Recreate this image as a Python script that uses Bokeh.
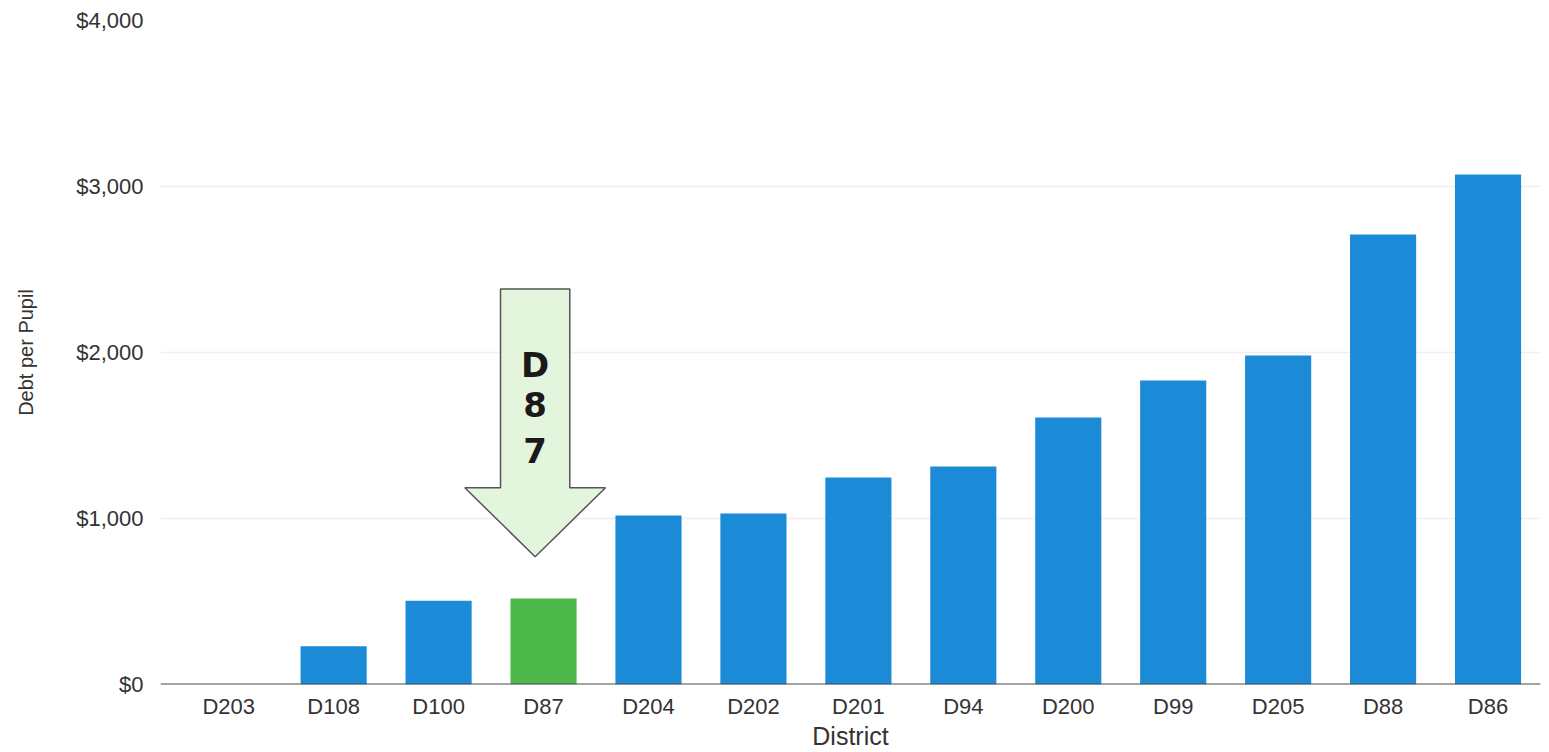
from bokeh.plotting import figure
from bokeh.models import Range1d, FixedTicker, NumeralTickFormatter, Span, ColumnDataSource
from bokeh.core.properties import value
from bokeh.embed import file_html
from bokeh.resources import INLINE

districts = ["D203", "D108", "D100", "D87", "D204", "D202", "D201", "D94", "D200", "D99", "D205", "D88", "D86"]
debt_per_pupil = [0, 230, 505, 518, 1018, 1030, 1247, 1313, 1608, 1831, 1982, 2711, 3072]
highlight = "D87"
highlight_letters = ["D", "8", "7"]
y_ticks = [0, 1000, 2000, 3000, 4000]

BLUE = "#1b8bd8"
GREEN = "#4db84a"

xs = list(range(len(districts)))
colors = [GREEN if d == highlight else BLUE for d in districts]
src = ColumnDataSource(dict(x=xs, top=debt_per_pupil, color=colors, name=districts))

p = figure(width=1549, height=752, output_backend="svg", toolbar_location=None,
           x_range=Range1d(-0.65, 12.5), y_range=Range1d(0, 4000),
           min_border_left=160, min_border_right=9, min_border_top=20, min_border_bottom=67)
p.outline_line_color = None
p.background_fill_color = "white"
p.border_fill_color = "white"

p.vbar(x="x", top="top", width=0.63, fill_color="color", line_color=None, source=src)

# baseline
p.add_layout(Span(location=0, dimension="width", line_color="#4a4a4a", line_width=2))

# arrow pointing to the highlighted district
hi = districts.index(highlight)
cx = hi - 0.08
shaft = 0.33
head = 0.67
y_top, y_neck, y_tip = 2382, 1185, 770
p.patch([cx - shaft, cx + shaft, cx + shaft, cx + head, cx, cx - head, cx - shaft],
        [y_top, y_top, y_neck, y_neck, y_tip, y_neck, y_neck],
        fill_color="#e3f5dd", line_color="#555555", line_width=1.5)
p.text(x=[cx, cx, cx], y=[1925, 1685, 1410], text=highlight_letters,
       text_align="center", text_baseline="middle", text_font=value("DejaVu Sans"),
       text_font_style="bold", text_font_size="34px", text_color="#1a1a1a")

FONT = "Liberation Sans"
# axes
p.xaxis.ticker = FixedTicker(ticks=xs)
p.xaxis.major_label_overrides = {i: d for i, d in enumerate(districts)}
p.xaxis.axis_line_color = None
p.xaxis.major_tick_line_color = None
p.xaxis.major_tick_out = 0
p.xaxis.major_tick_in = 0
p.xaxis.minor_tick_line_color = None
p.xaxis.major_label_text_font = FONT
p.xaxis.major_label_text_font_size = "22px"
p.xaxis.major_label_text_color = "#333333"
p.xaxis.major_label_standoff = 9
p.xaxis.axis_label = "District"
p.xaxis.axis_label_text_font = FONT
p.xaxis.axis_label_text_font_size = "25px"
p.xaxis.axis_label_text_font_style = "normal"
p.xaxis.axis_label_text_color = "#333333"
p.xaxis.axis_label_standoff = 0

p.yaxis.ticker = FixedTicker(ticks=y_ticks)
p.yaxis.formatter = NumeralTickFormatter(format="$0,0")
p.yaxis.axis_line_color = None
p.yaxis.major_tick_line_color = None
p.yaxis.major_tick_out = 0
p.yaxis.major_tick_in = 0
p.yaxis.minor_tick_line_color = None
p.yaxis.major_label_text_font = FONT
p.yaxis.major_label_text_font_size = "22px"
p.yaxis.major_label_text_color = "#333333"
p.yaxis.major_label_standoff = 17
p.yaxis.axis_label = "Debt per Pupil"
p.yaxis.axis_label_text_font = FONT
p.yaxis.axis_label_text_font_size = "20px"
p.yaxis.axis_label_text_font_style = "normal"
p.yaxis.axis_label_text_color = "#333333"
p.yaxis.axis_label_standoff = 36

p.xgrid.grid_line_color = None
p.ygrid.grid_line_color = "#efefef"
p.ygrid.grid_line_width = 1.5

open("out.html", "w").write(file_html(p, INLINE))
